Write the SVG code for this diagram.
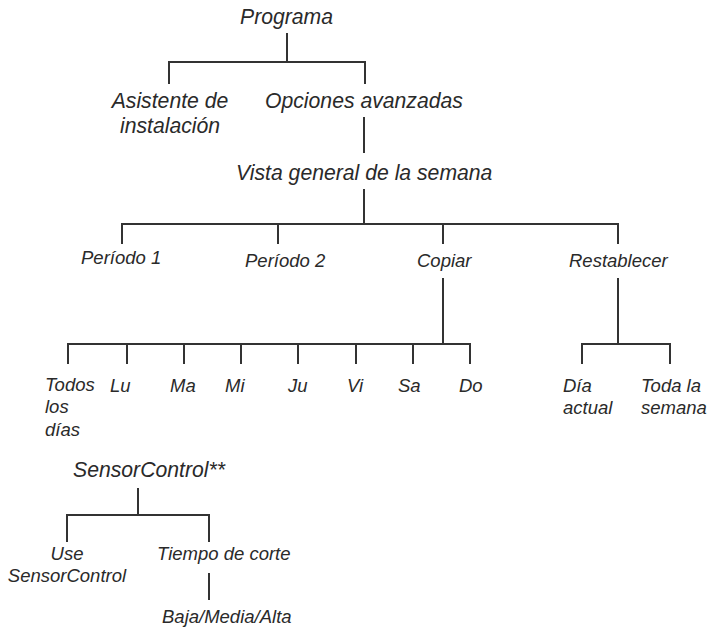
<svg xmlns="http://www.w3.org/2000/svg" width="709" height="629" viewBox="0 0 709 629">
<style>
  text { font-family: "Liberation Sans", Arial, sans-serif; font-style: italic; fill: #2a2a2a; }
  .t1 { font-size: 21.2px; }
  .t2 { font-size: 18.5px; }
  .mid { text-anchor: middle; }
  #connectors path { fill: none; stroke: #333; stroke-width: 2; }
</style>
<rect width="709" height="629" fill="#fff"/>
<g id="connectors">
  <path d="M287,33 V62 M169,84 V62 H365 V84"/>
  <path d="M364,117 V153"/>
  <path d="M364,189 V224 M122,244 V224 H618 V244 M278,224 V244 M443,224 V244"/>
  <path d="M443,278 V344 M68,364 V344 H470 V364 M127,344 V364 M184,344 V364 M241,344 V364 M298,344 V364 M356,344 V364 M413,344 V364"/>
  <path d="M618,278 V344 M582,364 V344 H670 V364"/>
  <path d="M138,488 V515 M67,542 V515 H209 V542"/>
  <path d="M209,573 V600"/>
</g>
<g id="programa"><text class="t1" x="240" y="24">Programa</text></g>
<g id="asistente"><text class="t1 mid" x="170" y="108">Asistente de</text><text class="t1 mid" x="170" y="133">instalación</text></g>
<g id="opciones"><text class="t1" x="265" y="108">Opciones avanzadas</text></g>
<g id="vista"><text class="t1" x="236" y="180">Vista general de la semana</text></g>
<g id="periodo1"><text class="t2" x="81" y="264">Período 1</text></g>
<g id="periodo2"><text class="t2" x="245" y="267">Período 2</text></g>
<g id="copiar"><text class="t2" x="417" y="267">Copiar</text></g>
<g id="restablecer"><text class="t2" x="569" y="267">Restablecer</text></g>
<g id="todos"><text class="t2" x="45" y="391">Todos</text><text class="t2" x="45" y="413">los</text><text class="t2" x="45" y="436">días</text></g>
<g id="lu"><text class="t2" x="110" y="392">Lu</text></g>
<g id="ma"><text class="t2" x="170" y="392">Ma</text></g>
<g id="mi"><text class="t2" x="225" y="392">Mi</text></g>
<g id="ju"><text class="t2" x="288" y="392">Ju</text></g>
<g id="vi"><text class="t2" x="347" y="392">Vi</text></g>
<g id="sa"><text class="t2" x="398" y="392">Sa</text></g>
<g id="do"><text class="t2" x="459" y="392">Do</text></g>
<g id="dia-actual"><text class="t2" x="563" y="392">Día</text><text class="t2" x="563" y="414">actual</text></g>
<g id="toda-semana"><text class="t2" x="641" y="392">Toda la</text><text class="t2" x="641" y="414">semana</text></g>
<g id="sensorcontrol"><text class="t1" x="73" y="477">SensorControl**</text></g>
<g id="use-sensorcontrol"><text class="t2 mid" x="67" y="560">Use</text><text class="t2 mid" x="67" y="582">SensorControl</text></g>
<g id="tiempo-corte"><text class="t2" x="157" y="560">Tiempo de corte</text></g>
<g id="baja-media-alta"><text class="t2" x="162" y="623">Baja/Media/Alta</text></g>
</svg>
